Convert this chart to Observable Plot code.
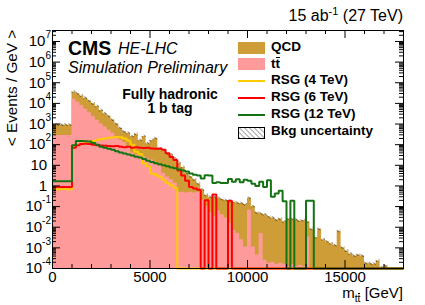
<!DOCTYPE html>
<html><head><meta charset="utf-8">
<script src="https://cdn.jsdelivr.net/npm/d3@7"></script>
<script src="https://cdn.jsdelivr.net/npm/@observablehq/plot@0.6"></script>
<style>
body{margin:0;background:#fff;}
#wrap{position:relative;width:425px;height:305px;font-family:"Liberation Sans",Arial,Helvetica,sans-serif;color:#000;overflow:hidden;}
.t{position:absolute;white-space:nowrap;line-height:1;}
.leg{font-weight:bold;font-size:13.5px;}
.sw{position:absolute;left:238px;width:27px;}
.ob{position:relative;display:inline-block;line-height:1;}
.bar{position:absolute;left:0.5px;right:0;top:0.06em;height:0;border-top:1.5px solid #000;}
</style></head><body><div id="wrap"></div>
<script>
// ---- data ----
const binEdges = [0,1000,1200,1400,1600,1800,2000,2200,2400,2600,2800,3000,3200,3400,3600,3800,4000,4200,4400,4600,4800,5000,5200,5400,5600,5800,6000,6200,6400,6600,6800,7000,7200,7400,7600,7800,8000,8200,8400,8600,8800,9000,9200,9400,9600,9800,10000,10200,10400,10600,10800,11000,11200,11400,11600,11800,12000,12200,12400,12600,12800,13000,13200,13400,13600,13800,14000,14200,14400,14600,14800,15000,15200,15400,15600,15800,16000,16200,16400,16600,16800,17000,17200,17400,17600,17800,18000];

const ttbar = [280,
 15800,11200,7900,5250,3550,2240,1510,1000,710,500,
 355,240,166,126,71,40,32,28,25,20,
 18,12.6,8.9,4.0,2.75,2.0,1.35,0.5,0.5,0.45,
 0.5,0.45,0.5,0.2,0.1,0.05,0.032,0.063,0.04,0.028,
 0.016,0.007,0.005,0.0025,0.0011,0.066,0.0011,0.00045,0.005,0.00025,
 0.00018,0.0002,0.00016,0.00018,0.00016,0.000125,0.00016,0.000125,0.00014,0.000125,
 0.0034,0,0,0,0,0,0,0,0,0,
 0,0,0,0,0,0,0,0,0,0,
 0,0,0,0,0];

const qcd = [610,
 19700,18300,15000,12500,9650,7300,5570,3470,2450,1900,
 1225,760,464,291,284,211,284,130,226,92,
 140,187,54,46,32,30,18.6,12.1,7.4,3.55,
 2.3,1.55,0.76,0.43,0.25,0.23,0.25,0.19,0.18,0.17,
 0.164,0.153,0.145,0.137,0.125,0.184,0.099,0.05,0.04,0.04,
 0.032,0.028,0.022,0.025,0.018,0.025,0.024,0.022,0.02,0.021,
 0.0146,0.008,0.0032,0.008,0.0025,0.002,0.0016,0.0013,0.0063,0.001,
 0.0007,0.0005,0.0004,0.00045,0.0004,0.00018,0.00017,0.00016,0.00023,0.00011,
 0.000135,0,0,0,0];

const rsg4 = [0.7,
 80,100,112,126,141,151,166,186,200,214,
 224,234,229,200,160,100,45,35,12.6,8.9,
 4.0,3.5,2.8,2.0,1.4,1.07,0.8,0,0,0,
 0,0,0,0,0,0,0,0,0,0,
 0,0,0,0,0,0,0,0,0,0,
 0,0,0,0,0,0,0,0,0,0,
 0,0,0,0,0,0,0,0,0,0,
 0,0,0,0,0,0,0,0,0,0,
 0,0,0,0,0];

const rsg6 = [0.9,
 70,93,107,112,107,100,95,91,89,85,
 83,85,79,76,79,71,74,71,68,71,
 66,63,66,56,38,25,18,5.6,3.2,1.8,
 0.9,0.76,0.66,0,0.2,0,0.38,0,0,0,
 0.19,0,0,0,0,0,0,0,0,0,
 0,0,0,0,0,0,0,0,0,0,
 0,0,0,0,0,0,0,0,0,0,
 0,0,0,0,0,0,0,0,0,0,
 0,0,0,0,0];

const rsg12 = [1.7,
 93,150,150,148,141,120,100,79,71,63,
 56,48,42,37,33,30,26,24,20,16.6,
 14.5,12.6,11.2,10,8.9,7.9,7.1,6.3,5.6,5.0,
 4.0,3.5,3.2,2.3,3.3,3.2,1.4,1.5,1.4,1.4,
 2.2,1.6,2.1,1.5,2.0,1.8,1.26,1.0,1.6,0.9,
 1.9,0.3,0.43,0.58,0.18,0,0.19,0,0,0,
 0.19,0.19,0,0,0,0,0,0,0,0,
 0,0,0,0,0,0,0,0,0,0,
 0,0,0,0,0];

const bkgRelUnc = 0.15;

const xTicks = [0, 5000, 10000, 15000];
const xTickLabels = ["0", "5000", "10000", "15000"];
const xMinorTicks = [1000,2000,3000,4000,6000,7000,8000,9000,11000,12000,13000,14000,16000,17000];
const yTicks = [1e-4,1e-3,1e-2,1e-1,1,10,1e2,1e3,1e4,1e5,1e6,1e7];
const yTickLabels = ["10^-4","10^-3","10^-2","10^-1","1","10","10^2","10^3","10^4","10^5","10^6","10^7"];

const cQCD = "#cf9d38", cTT = "#ff9a9a", c4 = "#ffcc00", c6 = "#ff0000", c12 = "#147314";

// ---- build ----
const floor = 1e-4, yTop = 3.4e7;
const W = 425, H = 305, mL = 52, mR = 22, mT = 30, mB = 37;
const fw = W - mL - mR, fh = H - mT - mB;

function stepPoints(vals) {
  const pts = vals.map((v, i) => ({x: binEdges[i], y: Math.max(v, floor)}));
  pts.push({x: binEdges[vals.length], y: Math.max(vals[vals.length - 1], floor)});
  return pts;
}
const total = ttbar.map((t, i) => t + qcd[i]);
const totPts = stepPoints(total);
const ttPts = stepPoints(ttbar);
const bandPts = totPts.map(p => ({x: p.x, lo: Math.max(p.y * (1 - bkgRelUnc), floor), hi: p.y > floor ? p.y * (1 + bkgRelUnc) : floor}));

const yMinor = [];
yTicks.forEach(d => { for (let m = 2; m <= 9; m++) { const v = m * d; if (v < yTop) yMinor.push(v); } });
const yLab = yTicks.map((v, i) => ({v, label: yTickLabels[i]}));

const lineOpts = {x: "x", y: "y", curve: "step-after", strokeWidth: 2, strokeLinejoin: "miter", strokeLinecap: "butt"};

const svg = Plot.plot({
  width: W, height: H, marginLeft: mL, marginRight: mR, marginTop: mT, marginBottom: mB,
  style: {fontFamily: "'Liberation Sans', Arial, sans-serif", fontSize: "15px", background: "white", overflow: "visible"},
  x: {domain: [0, 18000], axis: null},
  y: {type: "log", domain: [floor, yTop], axis: null},
  marks: [
    Plot.area(totPts, {x1: "x", y1: () => floor, y2: "y", curve: "step-after", fill: cQCD}),
    Plot.area(ttPts, {x1: "x", y1: () => floor, y2: "y", curve: "step-after", fill: cTT}),
    Plot.area(bandPts, {x1: "x", y1: "lo", y2: "hi", curve: "step-after", fill: "url(#hatch)"}),
    Plot.line(stepPoints(rsg4), {...lineOpts, stroke: c4}),
    Plot.line(stepPoints(rsg6), {...lineOpts, stroke: c6}),
    Plot.line(stepPoints(rsg12), {...lineOpts, stroke: c12}),
    Plot.frame({stroke: "black"}),
    Plot.tickX(xTicks, {x: d => d, insetTop: fh - 8, stroke: "black"}),
    Plot.tickX(xTicks, {x: d => d, insetBottom: fh - 8, stroke: "black"}),
    Plot.tickX(xMinorTicks, {x: d => d, insetTop: fh - 4, stroke: "black"}),
    Plot.tickX(xMinorTicks, {x: d => d, insetBottom: fh - 4, stroke: "black"}),
    Plot.tickY(yTicks, {y: d => d, insetRight: fw - 8, stroke: "black"}),
    Plot.tickY(yTicks, {y: d => d, insetLeft: fw - 8, stroke: "black"}),
    Plot.tickY(yMinor, {y: d => d, insetRight: fw - 4, stroke: "black"}),
    Plot.tickY(yMinor, {y: d => d, insetLeft: fw - 4, stroke: "black"}),
    Plot.text(xTicks, {x: d => d, text: (d, i) => xTickLabels[i], frameAnchor: "bottom", lineAnchor: "top", dy: 3, fontSize: 15}),
    Plot.text(yLab.filter(d => d.label.includes("^")), {y: "v", text: "label", frameAnchor: "left", textAnchor: "end", dx: -1.5, fontSize: 15}),
    Plot.text(yLab.filter(d => !d.label.includes("^")), {y: "v", text: "label", frameAnchor: "left", textAnchor: "end", dx: -5.3, fontSize: 15})
  ]
});

// hatch pattern
const ns = "http://www.w3.org/2000/svg";
const defs = document.createElementNS(ns, "defs");
defs.innerHTML = '<pattern id="hatch" width="3" height="3" patternUnits="userSpaceOnUse" patternTransform="rotate(-45)"><line x1="0" y1="0" x2="0" y2="3" stroke="#000" stroke-width="0.9"/></pattern>';
svg.insertBefore(defs, svg.firstChild);

// superscripts on power labels
svg.querySelectorAll("text").forEach(t => {
  const m = /^10\^(.+)$/.exec(t.textContent);
  if (m) {
    t.textContent = "10";
    const ts = document.createElementNS(ns, "tspan");
    ts.setAttribute("dy", "-8");
    ts.setAttribute("font-size", "10");
    ts.textContent = m[1];
    t.appendChild(ts);
  }
});

const wrap = document.getElementById("wrap");
wrap.appendChild(svg);
svg.style.position = "absolute"; svg.style.left = "0"; svg.style.top = "0";

function addText(html, style, cls) {
  const d = document.createElement("div");
  d.className = "t" + (cls ? " " + cls : "");
  d.innerHTML = html;
  d.setAttribute("style", style);
  wrap.appendChild(d);
  return d;
}
const tbar = 't<span class="ob">t<span class="bar"></span></span>';
// title & labels
addText('15 ab<span style="font-size:11px;position:relative;top:-6px">-1</span> (27 TeV)', "right:22px;top:7.5px;font-size:16px;");
addText('CMS', "left:68px;top:38.5px;font-size:19.5px;font-weight:bold;");
addText('HE-LHC', "left:118px;top:40.5px;font-size:16px;font-style:italic;");
addText('Simulation Preliminary', "left:68px;top:59.5px;font-size:16px;font-style:italic;");
addText('Fully hadronic', "left:170px;top:86.5px;font-size:14px;font-weight:bold;transform:translateX(-50%);");
addText('1 b tag', "left:170px;top:101.2px;font-size:14px;font-weight:bold;transform:translateX(-50%);");
addText('&lt; Events / GeV &gt;', "left:12px;top:87.5px;font-size:15.3px;transform:translate(-50%,-50%) rotate(-90deg);");
addText('m<span style="font-size:10.5px;position:relative;top:4px">' + tbar + '</span> [GeV]', "right:22px;top:286.5px;font-size:15px;line-height:0.75;");

// legend
const rows = [47.5, 64.25, 81, 97.75, 114.5, 131.25];
const legLabels = ['QCD', tbar, 'RSG (4 TeV)', 'RSG (6 TeV)', 'RSG (12 TeV)', 'Bkg uncertainty'];
legLabels.forEach((l, i) => addText(l, `left:271px;top:${rows[i] - 7.6}px;`, "leg"));
function sw(style) { const d = document.createElement("div"); d.className = "sw"; d.setAttribute("style", style); wrap.appendChild(d); }
sw(`top:${rows[0] - 6}px;height:12px;background:${cQCD};`);
sw(`top:${rows[1] - 6}px;height:12px;background:${cTT};`);
sw(`top:${rows[2] - 1}px;height:2px;background:${c4};`);
sw(`top:${rows[3] - 1}px;height:2px;background:${c6};`);
sw(`top:${rows[4] - 1}px;height:2px;background:${c12};`);
const hs = document.createElement("div");
hs.className = "sw";
hs.setAttribute("style", `top:${rows[5] - 6}px;height:12px;`);
hs.innerHTML = '<svg width="27" height="12"><defs><pattern id="hatchL" width="3.5" height="3.5" patternUnits="userSpaceOnUse" patternTransform="rotate(-45)"><line x1="0" y1="0" x2="0" y2="3.5" stroke="#333" stroke-width="0.9"/></pattern></defs><rect x="0.5" y="0.5" width="26" height="11" fill="url(#hatchL)" stroke="#000" stroke-width="1"/></svg>';
wrap.appendChild(hs);
</script></body></html>
